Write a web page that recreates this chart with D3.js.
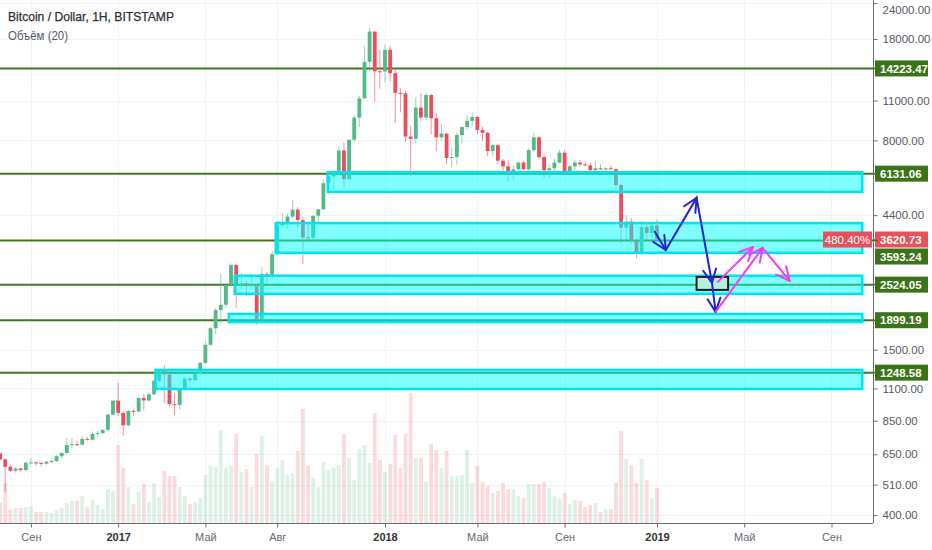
<!DOCTYPE html>
<html>
<head>
<meta charset="utf-8">
<script src="https://d3js.org/d3.v7.min.js"></script>
<style>
  body { margin: 0; background: #fff; }
  text { font-family: "Liberation Sans", Arial, sans-serif; }
</style>
</head>
<body>
<script>

    var width = 932, height = 550;
    var axisX = 873, axisY = 523;

    var svg = d3.select("body")
    .append("svg")
    .attr("width", width)
    .attr("height", height);

    /* Weekly candles, first week starts Mon 25 Jul 2016 */
    var firstWeek = new Date(2016, 6, 25);

    var open = [655,624,588,570,580,573,608,609,607,603,612,616,640,657,700,705,702,735,730,765,
        770,790,893,998,905,820,920,915,1020,1000,1050,1170,1270,1230,970,965,1095,1190,1175,1235,
        1350,1560,1780,2060,2150,2520,2950,2520,2550,2500,2510,1920,2750,2730,3220,4060,4100,4350,4600,4230,
        3680,3670,4380,4610,5680,6000,6140,7380,5870,8040,9600,11200,15000,19100,13900,13880,16500,13700,11700,11650,
        8250,8100,10400,9600,11500,9550,8200,8450,6950,7000,8350,8900,9350,9650,8700,8500,7350,7700,6800,6500,
        6150,6350,6700,6350,7400,8200,7000,6300,6400,6700,7250,6250,6500,6700,6600,6550,6300,6400,6350,6400,
        6350,5600,3980,4180,3580,3250,4000,3810,4050];
    var high = [660,628,598,585,585,612,632,613,610,616,620,645,660,742,740,725,752,746,780,782,
        792,900,1000,1150,915,925,930,1025,1050,1060,1190,1290,1330,1260,1060,1100,1210,1210,1250,1360,
        1600,1800,2100,2760,2550,2990,2980,2770,2600,2680,2530,2900,2800,3290,4200,4480,4450,4980,4700,4350,
        4110,4380,4620,5850,6180,6190,7600,7880,8050,9800,11400,17000,19666,19100,16500,17250,17000,14100,12100,11900,
        9000,11300,11700,11700,11600,9950,9150,8450,7550,8500,8950,9750,9990,9700,8950,8550,7750,7780,6900,6850,
        6550,6780,6800,7500,8500,8250,7150,6600,6900,7400,7400,6600,6850,6850,6750,6700,6800,6600,6480,6550,
        6400,5650,4400,4300,3600,4200,4150,4100,4250];
    var low = [615,480,565,562,565,568,600,595,592,598,605,612,628,650,682,695,700,725,725,750,
        765,785,885,885,755,810,885,910,930,990,1040,1150,980,950,890,930,1085,1150,1170,1230,
        1340,1550,1700,1850,2100,2500,2100,2440,2300,2480,1830,1910,2500,2650,3200,3950,3950,4300,3980,2970,
        3560,3580,4150,4580,5200,5400,6050,5500,5800,7900,8900,11100,13900,10900,12100,12750,12850,9200,10000,7900,
        6000,7800,9350,9400,8400,7330,8000,6600,6450,6600,7800,8700,9000,8400,7950,7050,7050,6600,6250,5750,
        5800,6300,6100,6300,7300,6900,5900,5880,6300,6650,6100,6150,6300,6450,6500,6200,6250,6300,6250,6300,
        5400,3500,3600,3500,3120,3200,3600,3700,3580];
    var close = [624,588,570,580,573,608,609,607,603,612,616,640,657,700,705,702,735,730,765,770,
        790,893,998,905,820,920,915,1020,1000,1050,1170,1270,1230,970,965,1095,1190,1175,1235,1350,
        1560,1780,2060,2150,2520,2950,2520,2550,2500,2510,1920,2750,2730,3220,4060,4100,4350,4600,4230,3680,
        3670,4380,4610,5680,6000,6140,7380,5870,8040,9600,11200,15000,19100,13900,13880,16500,13700,11700,11650,8250,
        8100,10400,9600,11500,9550,8200,8450,6950,7000,8350,8900,9350,9650,8700,8500,7350,7700,6800,6500,6150,
        6350,6700,6350,7400,8200,7000,6300,6400,6700,7250,6250,6500,6700,6600,6550,6300,6400,6350,6400,6350,
        5600,3980,4180,3580,3250,4000,3810,4050,3620.73];
    var volume = [20,40,13,15,15,16,17,11,11,11,10,13,15,20,22,22,27,16,23,18,
        14,34,32,78,55,36,19,31,39,21,40,26,52,47,47,36,27,19,21,25,
        48,57,56,93,55,57,89,51,54,36,69,87,58,42,55,63,48,50,72,114,
        57,45,36,61,53,55,58,89,65,43,74,78,60,110,63,51,59,88,55,89,
        130,65,65,41,79,73,55,72,47,47,48,73,40,57,41,37,30,32,40,34,
        34,27,25,39,39,39,41,35,27,24,30,19,23,22,16,18,20,11,14,14,
        40,92,64,58,40,64,43,25,35];

    // axis ticks
    var priceTicks = [400, 510, 650, 850, 1100, 1500, 4400, 8000, 11000, 18000, 24000];
    var timeTicks = ["2016-09-05", "2017-01-02", "2017-05-01", "2017-08-07", "2018-01-01",
        "2018-05-07", "2018-09-03", "2019-01-07", "2019-05-06", "2019-09-02"];
    var timeLabels = ["Сен", "2017", "Май", "Авг", "2018", "Май", "Сен", "2019", "Май", "Сен"];

    // support / resistance levels and zones
    var levelPrices = [14223.47, 6131.06, 3593.24, 2524.05, 1899.19, 1248.58];
    var lastPrice = 3620.73;
    var lastChange = "480.40%";
    var zoneStart = ["2017-10-15", "2017-08-05", "2017-06-10", "2017-06-02", "2017-02-22"];
    var zoneTop = [6200, 4130, 2710, 1996, 1276];
    var zoneBottom = [5300, 3255, 2345, 1871, 1096];
    var zoneEnd = "2019-10-14";

    // hand drawn forecast
    var blueArrow = [["2019-01-04", 3850], ["2019-01-19", 3330], ["2019-03-02", 5050], ["2019-03-23", 2560], ["2019-03-28", 2030]];
    var pinkArrow = [["2019-03-28", 2030], ["2019-05-31", 3385], ["2019-07-07", 2600]];
    var pinkArrow2 = [["2019-03-31", 2580], ["2019-05-18", 3410]];
    var boxDates = ["2019-03-02", "2019-04-14"];
    var boxPrices = [2685, 2420];

    var parse = d3.timeParse("%Y-%m-%d");
    var weeks = open.map(function(d, i) { return d3.timeDay.offset(firstWeek, i * 7); });

    // Set x, y scales
    var x = d3.scaleTime()
    .domain([new Date(2018, 0, 1), new Date(2019, 0, 7)])
    .range([385, 657]);

    var y = d3.scaleLog()
    .domain([400, 24000])
    .range([515, 3]);

    var yVol = d3.scaleLinear()
    .domain([0, 130])
    .range([axisY, axisY - 130]);

    var up = "#53b987", down = "#eb4d5c";

    // grid
    var grid = svg.append("g");
    grid.selectAll("line.h")
    .data(priceTicks)
    .enter().append("line")
    .attr("x1", 0).attr("x2", axisX)
    .attr("y1", function(d) { return Math.round(y(d)) + 0.5; })
    .attr("y2", function(d) { return Math.round(y(d)) + 0.5; })
    .style("stroke", "#f1f3f6");
    grid.selectAll("line.v")
    .data(timeTicks)
    .enter().append("line")
    .attr("y1", 0).attr("y2", axisY)
    .attr("x1", function(d) { return Math.round(x(parse(d))) + 0.5; })
    .attr("x2", function(d) { return Math.round(x(parse(d))) + 0.5; })
    .style("stroke", "#f1f3f6");

    // volume
    svg.append("g").selectAll("rect")
    .data(volume)
    .enter().append("rect")
    .attr("x", function(d, i) { return x(weeks[i]) - 1.9; })
    .attr("width", 3.8)
    .attr("y", function(d) { return yVol(d); })
    .attr("height", function(d) { return axisY - yVol(d); })
    .style("fill", function(d, i) { return close[i] >= open[i] ? up : down; })
    .style("opacity", 0.2);

    // level lines
    svg.append("g").selectAll("line")
    .data(levelPrices)
    .enter().append("line")
    .attr("x1", 0).attr("x2", axisX)
    .attr("y1", function(d) { return y(d); })
    .attr("y2", function(d) { return y(d); })
    .style("stroke", "#3d7b1c")
    .style("stroke-width", 2);

    // candles
    var candles = svg.append("g").selectAll("g")
    .data(open)
    .enter().append("g");

    candles.append("line")
    .attr("x1", function(d, i) { return x(weeks[i]); })
    .attr("x2", function(d, i) { return x(weeks[i]); })
    .attr("y1", function(d, i) { return y(high[i]); })
    .attr("y2", function(d, i) { return y(low[i]); })
    .style("stroke", function(d, i) { return close[i] >= open[i] ? up : down; })
    .style("stroke-opacity", 0.6);

    candles.append("rect")
    .attr("x", function(d, i) { return x(weeks[i]) - 1.9; })
    .attr("width", 3.8)
    .attr("y", function(d, i) { return y(Math.max(open[i], close[i])); })
    .attr("height", function(d, i) { return Math.max(1, Math.abs(y(open[i]) - y(close[i]))); })
    .style("fill", function(d, i) { return close[i] >= open[i] ? up : down; });

    // zones
    svg.append("g").selectAll("rect")
    .data(zoneTop)
    .enter().append("rect")
    .attr("x", function(d, i) { return x(parse(zoneStart[i])); })
    .attr("width", function(d, i) { return x(parse(zoneEnd)) - x(parse(zoneStart[i])); })
    .attr("y", function(d) { return y(d); })
    .attr("height", function(d, i) { return y(zoneBottom[i]) - y(d); })
    .style("fill", "#00ffff")
    .style("fill-opacity", 0.5)
    .style("stroke", "#00e3f2")
    .style("stroke-width", 2.5);

    // forecast drawing
    function pt(d) { return [x(parse(d[0])), y(d[1])]; }

    function drawArrow(points, color) {
        var p = points.map(pt);
        var g = svg.append("g")
        .style("stroke", color)
        .style("stroke-width", 2)
        .style("fill", "none")
        .style("stroke-linecap", "round");
        g.append("path").attr("d", d3.line()(p));
        for (var i = 1; i < p.length; i++) {
            var a = Math.atan2(p[i][1] - p[i - 1][1], p[i][0] - p[i - 1][0]);
            [-0.45, 0.45].forEach(function(s) {
                g.append("line")
                .attr("x1", p[i][0]).attr("y1", p[i][1])
                .attr("x2", p[i][0] - 15 * Math.cos(a + s))
                .attr("y2", p[i][1] - 15 * Math.sin(a + s));
            });
        }
    }

    svg.append("rect")
    .attr("x", x(parse(boxDates[0])))
    .attr("y", y(boxPrices[0]))
    .attr("width", x(parse(boxDates[1])) - x(parse(boxDates[0])))
    .attr("height", y(boxPrices[1]) - y(boxPrices[0]))
    .style("fill", "#b6f0dc")
    .style("stroke", "#1b1b1b")
    .style("stroke-width", 2);

    drawArrow(blueArrow, "#1f23d8");
    drawArrow(pinkArrow, "#f23df2");
    drawArrow(pinkArrow2, "#f23df2");

    // white background under axes
    svg.append("rect").attr("x", axisX).attr("y", 0).attr("width", width - axisX).attr("height", height).style("fill", "#fff");
    svg.append("rect").attr("x", 0).attr("y", axisY).attr("width", width).attr("height", height - axisY).style("fill", "#fff");

    // Define and draw axes
    var yAxis = d3.axisRight()
    .scale(y)
    .tickValues(priceTicks)
    .tickSize(4)
    .tickPadding(5)
    .tickFormat(d3.format(".2f"));

    var xAxis = d3.axisBottom()
    .scale(x)
    .tickValues(timeTicks.map(parse))
    .tickSize(4)
    .tickPadding(6)
    .tickFormat(function(d, i) { return timeLabels[i]; });

    var ya = svg.append("g")
    .attr("class", "y axis")
    .attr("transform", "translate(" + (axisX + 0.5) + ",0)")
    .call(yAxis);

    var xa = svg.append("g")
    .attr("class", "x axis")
    .attr("transform", "translate(0," + (axisY + 0.5) + ")")
    .call(xAxis);

    ya.select(".domain").attr("d", "M0,0V" + axisY);
    xa.select(".domain").attr("d", "M0,0H" + axisX);
    svg.selectAll(".axis .domain").style("stroke", "#6a6d78");
    svg.selectAll(".axis .tick line").style("stroke", "#6a6d78");
    ya.selectAll("text").style("font-size", "11.5px").style("fill", "#555a66")
    .attr("dy", function(d) { return d === 24000 ? "0.9em" : "0.32em"; });
    xa.selectAll("text")
    .style("font-size", "11px")
    .style("fill", function(d, i) { return /^\d+$/.test(timeLabels[i]) ? "#333" : "#666a73"; })
    .style("font-weight", function(d, i) { return /^\d+$/.test(timeLabels[i]) ? "bold" : "normal"; });

    // price labels on the axis, pushed apart when they overlap
    var labels = [{ p: lastPrice, txt: lastPrice.toFixed(2), fill: "#e9505c" }]
    .concat(levelPrices.map(function(d) { return { p: d, txt: d.toFixed(2), fill: "#3a7318" }; }));
    labels.sort(function(a, b) { return b.p - a.p; });
    var prev = -100;
    labels.forEach(function(d) {
        d.y = Math.max(y(d.p), prev + 17);
        prev = d.y;
    });

    var lab = svg.append("g").selectAll("g")
    .data(labels)
    .enter().append("g");

    lab.append("line")
    .attr("x1", axisX).attr("x2", axisX + 5)
    .attr("y1", function(d) { return y(d.p); })
    .attr("y2", function(d) { return y(d.p); })
    .style("stroke", function(d) { return d.fill; })
    .style("stroke-width", 1.5);

    lab.append("rect")
    .attr("x", axisX + 2)
    .attr("y", function(d) { return d.y - 8; })
    .attr("width", 53)
    .attr("height", 16)
    .style("fill", function(d) { return d.fill; });

    lab.append("text")
    .attr("x", axisX + 7)
    .attr("y", function(d) { return d.y; })
    .attr("dy", "0.36em")
    .style("font-size", "11.5px")
    .style("font-weight", "bold")
    .style("fill", "#fff")
    .text(function(d) { return d.txt; });

    svg.append("rect")
    .attr("x", axisX - 50)
    .attr("y", y(lastPrice) - 8)
    .attr("width", 49)
    .attr("height", 16)
    .style("fill", "#e9505c");

    svg.append("text")
    .attr("x", axisX - 25.5)
    .attr("y", y(lastPrice))
    .attr("dy", "0.36em")
    .style("text-anchor", "middle")
    .style("font-size", "11.5px")
    .style("fill", "#fff")
    .text(lastChange);

    // header
    svg.append("text")
    .attr("x", 8).attr("y", 21)
    .attr("textLength", 166)
    .attr("lengthAdjust", "spacingAndGlyphs")
    .style("font-size", "13px")
    .style("fill", "#2a2e39")
    .style("stroke", "#2a2e39")
    .style("stroke-width", 0.25)
    .text("Bitcoin / Dollar, 1H, BITSTAMP");

    svg.append("text")
    .attr("x", 8).attr("y", 40)
    .attr("textLength", 60)
    .attr("lengthAdjust", "spacingAndGlyphs")
    .style("font-size", "12.5px")
    .style("fill", "#555a66")
    .text("Объём (20)");

</script>
</body>
</html>
